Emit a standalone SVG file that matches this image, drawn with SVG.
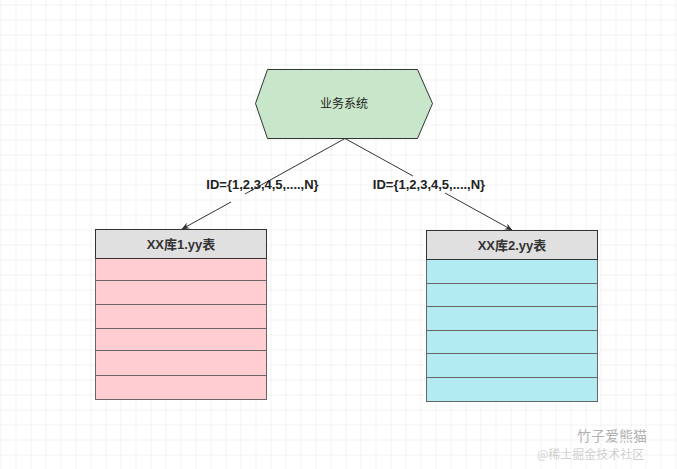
<svg xmlns="http://www.w3.org/2000/svg" width="677" height="469" viewBox="0 0 677 469">
<defs>
<pattern id="grid" x="0.5" y="4.5" width="15" height="15" patternUnits="userSpaceOnUse">
<path d="M0 0H15M0 0V15" fill="none" stroke="#e8e8e8" stroke-width="1"/>
</pattern>
<marker id="arr" viewBox="0 0 10 10" refX="9" refY="5" markerWidth="8" markerHeight="8" orient="auto" markerUnits="userSpaceOnUse">
<path d="M0 1L10 5L0 9L3 5Z" fill="#333"/>
</marker>
</defs>
<style>
.line{stroke:#333;stroke-width:1;fill:none}
.lbl{font-family:"Liberation Sans","Noto Sans CJK SC",sans-serif;font-size:13px;font-weight:bold;fill:#222;text-anchor:middle}
.hdr{font-family:"Liberation Sans","Noto Sans CJK SC",sans-serif;font-size:13px;font-weight:bold;fill:#333;text-anchor:middle}
.row{stroke:#666;stroke-width:1}
.sys{font-family:"Noto Sans CJK SC",sans-serif;font-size:12px;fill:#222;text-anchor:middle}
</style>
<rect width="677" height="469" fill="#fff"/>
<rect width="677" height="469" fill="url(#grid)"/>
<g id="connectors">
<path class="line" d="M345 138.5L245 194" />
<path class="line" d="M231 202L182 229" marker-end="url(#arr)"/>
<path class="line" d="M345 138.5L413 176" />
<path class="line" d="M445 193L512 230" marker-end="url(#arr)"/>
<text class="lbl" x="262.5" y="189">ID={1,2,3,4,5,....,N}</text>
<text class="lbl" x="429" y="189">ID={1,2,3,4,5,....,N}</text>
</g>
<g id="system">
<polygon points="267.5,69.5 417.5,69.5 432.5,103.5 417.5,138.5 267.5,138.5 255.5,103.5" fill="#c8e6c9" stroke="#333"/>
<text class="sys" x="344" y="108">业务系统</text>
</g>
<g id="table1">
<rect x="95.5" y="258.5" width="171" height="141" fill="#ffcdd2" stroke="#666"/>
<line class="row" x1="95.5" y1="280.5" x2="266.5" y2="280.5"/>
<line class="row" x1="95.5" y1="304.5" x2="266.5" y2="304.5"/>
<line class="row" x1="95.5" y1="328.5" x2="266.5" y2="328.5"/>
<line class="row" x1="95.5" y1="350.5" x2="266.5" y2="350.5"/>
<line class="row" x1="95.5" y1="375.5" x2="266.5" y2="375.5"/>
<rect x="95.5" y="229.5" width="171" height="29" fill="#e0e0e0" stroke="#333"/>
<text class="hdr" x="181" y="249">XX库1.yy表</text>
</g>
<g id="table2">
<rect x="426.5" y="259.5" width="171" height="142" fill="#b2ebf2" stroke="#666"/>
<line class="row" x1="426.5" y1="283.5" x2="597.5" y2="283.5"/>
<line class="row" x1="426.5" y1="306.5" x2="597.5" y2="306.5"/>
<line class="row" x1="426.5" y1="330.5" x2="597.5" y2="330.5"/>
<line class="row" x1="426.5" y1="353.5" x2="597.5" y2="353.5"/>
<line class="row" x1="426.5" y1="377.5" x2="597.5" y2="377.5"/>
<rect x="426.5" y="230.5" width="171" height="29" fill="#e0e0e0" stroke="#333"/>
<text class="hdr" x="512" y="250">XX库2.yy表</text>
</g>
<g id="watermark" opacity="0.45">
<text x="577" y="441" font-family="Noto Sans CJK SC,sans-serif" font-size="14" fill="#555">竹子爱熊猫</text>
<text x="537" y="459" font-family="Noto Sans CJK SC,sans-serif" font-size="12" fill="#999">@稀土掘金技术社区</text>
</g>
</svg>
